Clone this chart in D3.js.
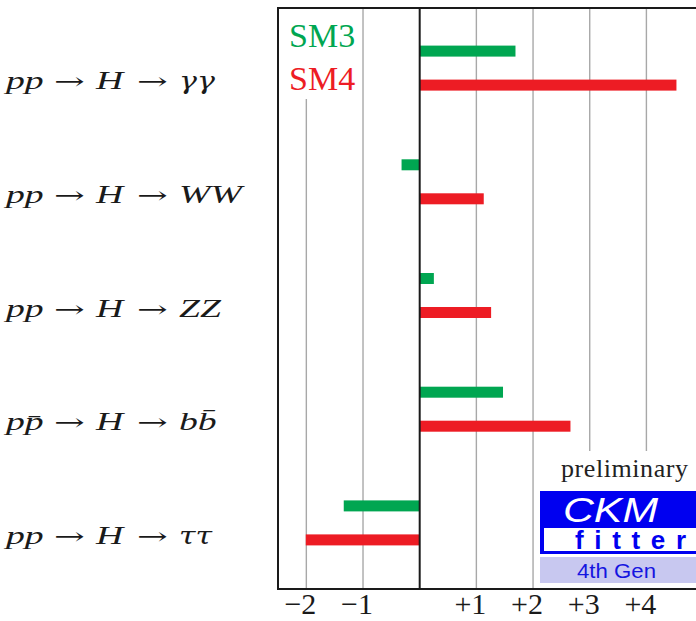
<!DOCTYPE html>
<html>
<head>
<meta charset="utf-8">
<script src="https://cdn.jsdelivr.net/npm/d3@7"></script>
<style>
  html, body { margin: 0; padding: 0; background: #fff; }
  svg { display: block; }
</style>
</head>
<body>
<svg id="chart" width="696" height="621"></svg>
<script>
// Higgs production × decay channels
const channels = ["gg", "WW", "ZZ", "bb", "tautau"];
const initialStates = ["pp", "pp", "pp", "pp\u0304", "pp"];
const finalStates = ["\u03B3\u03B3", "WW", "ZZ", "bb\u0304", "\u03C4\u03C4"];
const series = ["SM3", "SM4"];
const sm3Values = [1.69, -0.32, 0.25, 1.47, -1.34];
const sm4Values = [4.53, 1.13, 1.26, 2.66, -2.01];
const tickValues = [-2, -1, 1, 2, 3, 4];
const tickLabels = ["\u22122", "\u22121", "+1", "+2", "+3", "+4"];

const colors = { SM3: "#00a651", SM4: "#ed1c24" };
const svg = d3.select("#chart");

const plot = { left: 278, top: 8, right: 696, bottom: 589 };

const x = d3.scaleLinear().domain([-2.5, 4.875]).range([plot.left, plot.right]);
const row = d3.scaleBand().domain(channels).range([11.25, 579.75]);
const sub = d3.scalePoint().domain(series).range([-17, 17]);
const barH = 11;

// grid lines
const gridTop = { "-2": 99 };
svg.append("g").selectAll("line")
  .data(tickValues)
  .join("line")
  .attr("x1", d => x(d)).attr("x2", d => x(d))
  .attr("y1", d => gridTop[d] !== undefined ? gridTop[d] : plot.top)
  .attr("y2", plot.bottom)
  .attr("stroke", "#a8a8a8")
  .attr("stroke-width", 1.4);

// bars
const barData = [];
channels.forEach((c, i) => {
  barData.push({ c, s: "SM3", v: sm3Values[i] });
  barData.push({ c, s: "SM4", v: sm4Values[i] });
});
svg.append("g").selectAll("rect")
  .data(barData)
  .join("rect")
  .attr("x", d => x(Math.min(0, d.v)))
  .attr("width", d => Math.abs(x(d.v) - x(0)))
  .attr("y", d => row(d.c) + row.bandwidth() / 2 + sub(d.s) - barH / 2)
  .attr("height", barH)
  .attr("fill", d => colors[d.s]);

// logo panel background (covers upper grid lines)
svg.append("rect").attr("x", 538).attr("y", 451).attr("width", 160).attr("height", 137).attr("fill", "#fff");

// frame
const frame = svg.append("g").attr("stroke", "#1a1a1a").attr("stroke-width", 2).attr("fill", "none");
frame.append("path").attr("d", `M${plot.right},${plot.top}H${plot.left}V${plot.bottom}H${plot.right}`);
frame.append("line").attr("x1", x(0)).attr("x2", x(0)).attr("y1", plot.top).attr("y2", plot.bottom);

// x axis tick labels
svg.append("g").selectAll("text")
  .data(tickValues)
  .join("text")
  .attr("x", d => x(d) - 6)
  .attr("y", 614)
  .attr("text-anchor", "middle")
  .attr("font-family", "'Liberation Serif', serif")
  .attr("font-size", 30)
  .attr("fill", "#1a1a1a")
  .text((d, i) => tickLabels[i]);

// legend
series.forEach((s, i) => {
  svg.append("text")
    .attr("x", 289).attr("y", 47 + i * 43)
    .attr("font-family", "'Liberation Serif', serif")
    .attr("font-size", 34)
    .attr("fill", colors[s])
    .text(s);
});

// channel labels
function piece(g, px, str, opts) {
  g.append("text")
    .attr("transform", `translate(${px},0) scale(${opts.sx},1)`)
    .attr("font-family", opts.family)
    .attr("font-style", opts.italic ? "italic" : "normal")
    .attr("font-size", opts.size)
    .attr("fill", "#1a1a1a")
    .text(str);
}
const latin = { family: "'Liberation Serif', serif", italic: true, size: 26, sx: 1.45 };
const greek = { family: "'DejaVu Serif', serif", italic: true, size: 24, sx: 1.25 };
const arrow = { family: "'DejaVu Serif', serif", italic: false, size: 23, sx: 1.6 };
channels.forEach((c, i) => {
  const baseline = row(c) + row.bandwidth() / 2 + 21;
  const g = svg.append("g").attr("transform", `translate(0,${baseline})`);
  piece(g, 6, initialStates[i], latin);
  piece(g, 54, "\u2192", arrow);
  piece(g, 96, "H", latin);
  piece(g, 137, "\u2192", arrow);
  piece(g, 179, finalStates[i], /[\u0370-\u03ff]/.test(finalStates[i]) ? greek : latin);
});

// watermark / logo
svg.append("text")
  .attr("x", 561).attr("y", 477)
  .attr("font-family", "'Liberation Serif', serif")
  .attr("font-size", 26)
  .attr("textLength", 127)
  .attr("fill", "#222")
  .text("preliminary");
svg.append("rect").attr("x", 540).attr("y", 491).attr("width", 160).attr("height", 63).attr("fill", "#0000f0");
svg.append("rect").attr("x", 544).attr("y", 528).attr("width", 160).attr("height", 23).attr("fill", "#fff");
svg.append("text")
  .attr("x", 563).attr("y", 522)
  .attr("font-family", "'Liberation Sans', sans-serif")
  .attr("font-style", "italic")
  .attr("font-size", 35)
  .attr("textLength", 95)
  .attr("lengthAdjust", "spacingAndGlyphs")
  .attr("fill", "#fff")
  .text("CKM");
svg.append("text")
  .attr("x", 575).attr("y", 549)
  .attr("font-family", "'Liberation Sans', sans-serif")
  .attr("font-weight", "bold")
  .attr("font-size", 26)
  .attr("textLength", 111)
  .attr("fill", "#0000f0")
  .text("fitter");
svg.append("rect").attr("x", 540).attr("y", 557).attr("width", 160).attr("height", 26).attr("fill", "#c8c8f0");
svg.append("text")
  .attr("x", 577).attr("y", 578)
  .attr("font-family", "'Liberation Sans', sans-serif")
  .attr("font-size", 21)
  .attr("textLength", 79)
  .attr("lengthAdjust", "spacingAndGlyphs")
  .attr("fill", "#1515e0")
  .text("4th Gen");
</script>
</body>
</html>
